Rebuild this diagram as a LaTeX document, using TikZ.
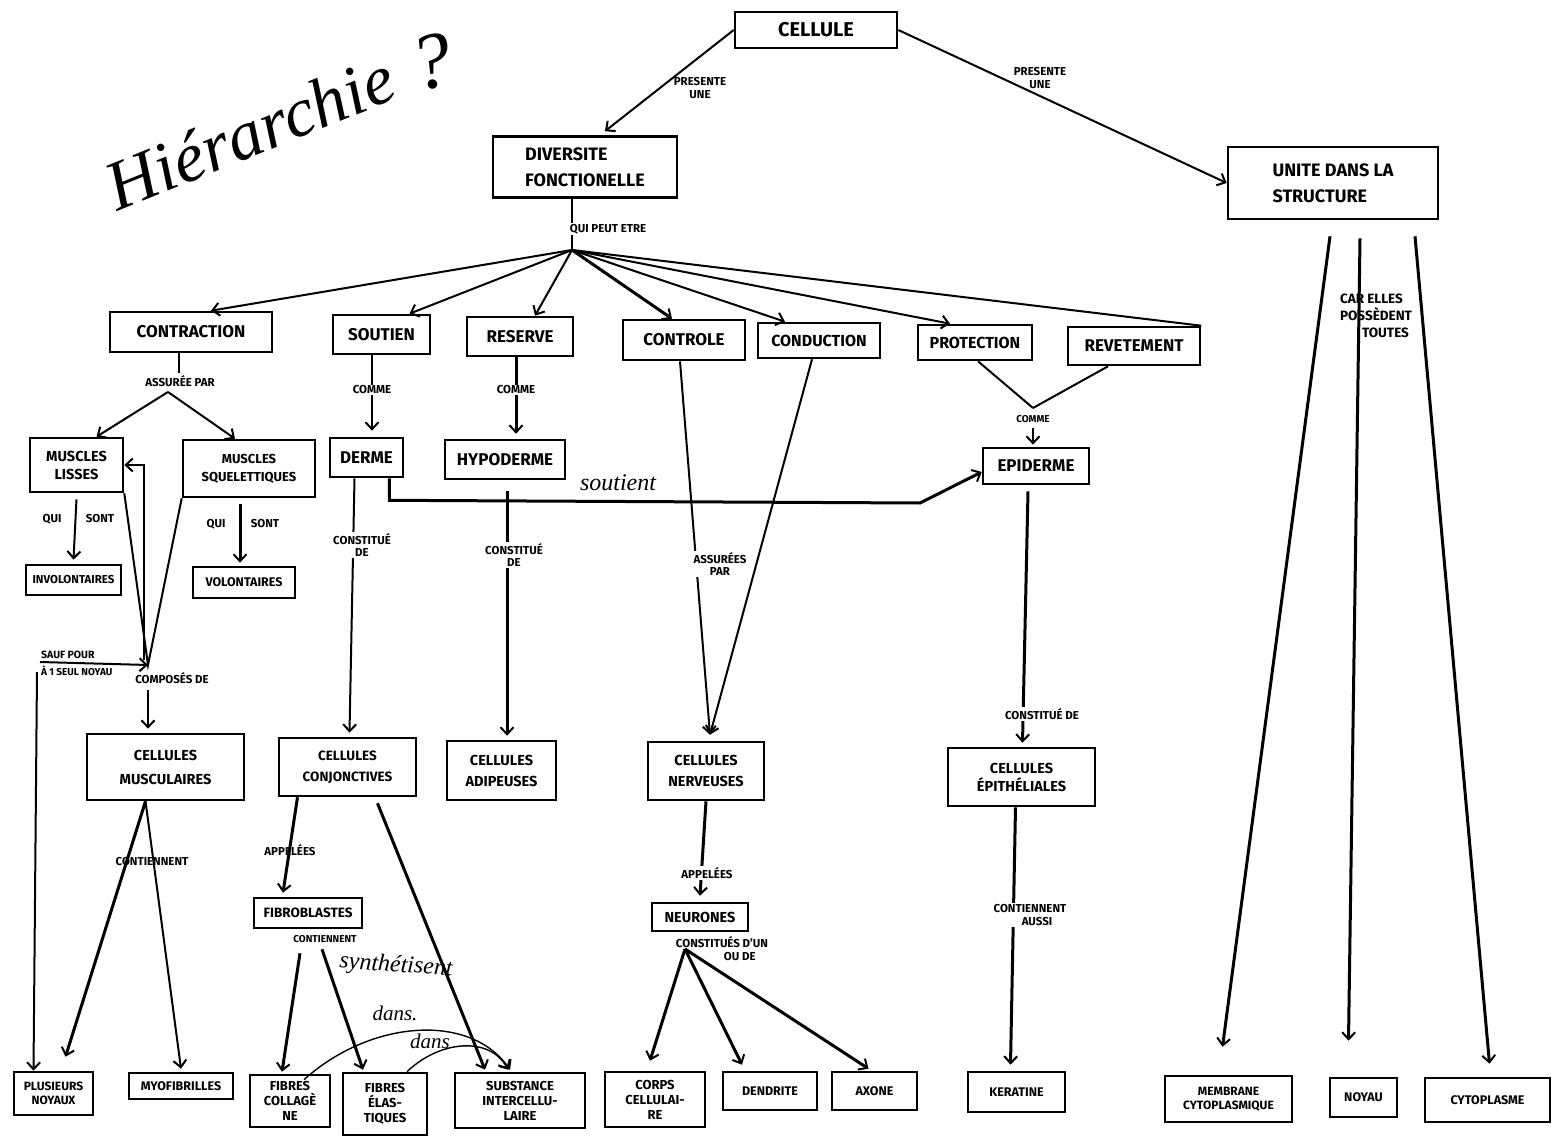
\documentclass[tikz,border=0pt]{standalone}
\usepackage{fontspec}
\setmainfont{Fira Sans}
\newfontfamily\hand{Liberation Serif}
\usetikzlibrary{arrows.meta,calc}

\begin{document}
\begin{tikzpicture}[x=1pt,y=-1pt,
  box/.style={draw, line width=2.6pt, inner sep=2pt, align=center},
  big/.style={font=\bfseries\fontsize{18}{26}\selectfont},
  mid/.style={font=\bfseries\fontsize{17}{20}\selectfont},
  sml/.style={font=\bfseries\fontsize{14.5}{18}\selectfont},
  tny/.style={font=\bfseries\fontsize{12.5}{14}\selectfont},
  thr/.style={font=\bfseries\fontsize{13}{15}\selectfont},
  lbl/.style={font=\bfseries\fontsize{11.5}{13}\selectfont, align=center, inner sep=1pt},
  wlbl/.style={lbl, fill=white},
  link/.style={line width=2pt, -{Straight Barb[length=7pt,width=13pt,line width=2pt]}},
  heavy/.style={link, line width=3pt},
  plain/.style={line width=2pt},
  cursive/.style={font=\hand\itshape\fontsize{24}{24}\selectfont, inner sep=0pt}
]
\useasboundingbox (0,0) rectangle (1560,1147);
\fill[white] (0,0) rectangle (1560,1147);

% title
\node[rotate=22, font=\hand\itshape\fontsize{70}{70}\selectfont] (title) at (250,132) {Hiérarchie};
\node[rotate=12, font=\hand\itshape\fontsize{80}{80}\selectfont] (qm) at (432,62) {?};

% top levels
\node[box, font=\bfseries\fontsize{20}{26}\selectfont, minimum width=162, minimum height=36] (cel) at (816,30) {CELLULE};
\node[box, big, minimum width=184, minimum height=61, align=left] (div) at (585,167) {DIVERSITE\\FONCTIONELLE};
\node[box, big, minimum width=210, minimum height=72, align=left] (uni) at (1333,183) {UNITE DANS LA\\STRUCTURE};

% functions
\node[box, mid, minimum width=162, minimum height=40] (contr) at (191,332) {CONTRACTION};
\node[box, mid, minimum width=97, minimum height=39] (sout) at (381.5,334.5) {SOUTIEN};
\node[box, mid, minimum width=106, minimum height=39] (res) at (520,336.5) {RESERVE};
\node[box, mid, minimum width=122, minimum height=40] (ctrl) at (684,340) {CONTROLE};
\node[box, mid, font=\bfseries\fontsize{16}{20}\selectfont, minimum width=122, minimum height=35] (cond) at (819,340.5) {CONDUCTION};
\node[box, mid, font=\bfseries\fontsize{16}{20}\selectfont, minimum width=114, minimum height=35] (prot) at (975,342.5) {PROTECTION};
\node[box, mid, minimum width=132, minimum height=38] (rev) at (1134,346) {REVETEMENT};

% tissues
\node[box, sml, minimum width=93, minimum height=54] (ml) at (76.5,465) {MUSCLES\\LISSES};
\node[box, sml, font=\bfseries\fontsize{13}{18}\selectfont, minimum width=132, minimum height=57] (ms) at (249,468.5) {MUSCLES\\SQUELETTIQUES};
\node[box, mid, minimum width=73, minimum height=39] (derme) at (366.5,457.5) {DERME};
\node[box, mid, minimum width=120, minimum height=39] (hypo) at (505,459.5) {HYPODERME};
\node[box, mid, minimum width=106, minimum height=36] (epi) at (1036,466) {EPIDERME};
\node[box, tny, font=\bfseries\fontsize{11.5}{13}\selectfont, minimum width=95, minimum height=30] (invol) at (73.5,580) {INVOLONTAIRES};
\node[box, tny, minimum width=102, minimum height=31] (vol) at (244,582.5) {VOLONTAIRES};

% cells
\node[box, sml, minimum width=157, minimum height=66] (cm) at (165.5,767) {CELLULES\\[6pt]MUSCULAIRES};
\node[box, sml, font=\bfseries\fontsize{13.5}{18}\selectfont, minimum width=137, minimum height=58] (ccj) at (347.5,767) {CELLULES\\[3pt]CONJONCTIVES};
\node[box, sml, minimum width=109, minimum height=59] (cad) at (501.5,770.5) {CELLULES\\[3pt]ADIPEUSES};
\node[box, sml, minimum width=116, minimum height=58] (cn) at (706,771) {CELLULES\\[3pt]NERVEUSES};
\node[box, sml, minimum width=147, minimum height=58] (cep) at (1021.5,777) {CELLULES\\ÉPITHÉLIALES};
\node[box, sml, font=\bfseries\fontsize{13.5}{18}\selectfont, minimum width=108, minimum height=30] (fib) at (308,913) {FIBROBLASTES};
\node[box, sml, minimum width=96, minimum height=28] (neur) at (700,917) {NEURONES};

% components
\node[box, thr, font=\bfseries\fontsize{12}{14.5}\selectfont, minimum width=79, minimum height=43] (pn) at (53.5,1093.5) {PLUSIEURS\\NOYAUX};
\node[box, tny, minimum width=104, minimum height=26] (myo) at (181,1086) {MYOFIBRILLES};
\node[box, thr, minimum width=80, minimum height=52] (fcol) at (290,1101) {FIBRES\\COLLAGÈ\\NE};
\node[box, thr, minimum width=84, minimum height=62] (fela) at (385,1104) {FIBRES\\ÉLAS-\\TIQUES};
\node[box, thr, minimum width=130, minimum height=55] (subst) at (520,1100.5) {SUBSTANCE\\INTERCELLU-\\LAIRE};
\node[box, thr, minimum width=100, minimum height=55] (corps) at (655,1099.5) {CORPS\\CELLULAI-\\RE};
\node[box, tny, minimum width=94, minimum height=38] (dend) at (770,1091) {DENDRITE};
\node[box, tny, minimum width=85, minimum height=38] (axone) at (874.5,1091) {AXONE};
\node[box, tny, minimum width=97, minimum height=40] (ker) at (1016.5,1092) {KERATINE};
\node[box, tny, font=\bfseries\fontsize{12}{14.5}\selectfont, minimum width=127, minimum height=46] (memb) at (1228.5,1099) {MEMBRANE\\CYTOPLASMIQUE};
\node[box, tny, minimum width=67, minimum height=39] (noy) at (1363.5,1097.5) {NOYAU};
\node[box, tny, minimum width=125, minimum height=44] (cyto) at (1487.5,1100) {CYTOPLASME};

% cellule
\draw[link] (cel.west) -- ([xshift=20pt,yshift=4pt]div.north);
\node[lbl] (l1) at (700,88) {PRESENTE\\UNE};
\draw[link] (cel.east) -- (uni.west);
\node[lbl] (l2) at (1040,78) {PRESENTE\\UNE};

% fan of functions
\coordinate (hub) at (572,250);
\draw[plain] (div.south -| hub) -- (hub);
\node[wlbl] (l3) at (608,229) {QUI PEUT ETRE};
\draw[link] (hub) -- ([xshift=20pt]contr.north);
\draw[link] (hub) -- ([xshift=28pt]sout.north);
\draw[link] (hub) -- ([xshift=15pt]res.north);
\draw[heavy] (hub) -- ([xshift=-12pt]ctrl.north);
\draw[link] (hub) -- ([xshift=-34pt]cond.north);
\draw[link] (hub) -- ([xshift=-25pt]prot.north);
\draw[plain] (hub) -- (rev.north east);

% contraction
\draw[plain] ([xshift=-12pt]contr.south) -- ++(0,20);
\node[lbl] (l4) at (180,381) {ASSURÉE PAR};
\coordinate (ap) at (168,392);
\draw[link] (ap) -- ([xshift=20pt]ml.north);
\draw[link] (ap) -- ([xshift=-14pt]ms.north);
\draw[link] ([yshift=-6pt]ml.south) -- ([yshift=4pt]invol.north);
\node[lbl] (l5) at (52,519) {QUI};
\node[lbl] (l6) at (100,519) {SONT};
\draw[heavy] ([xshift=-9pt,yshift=-6pt]ms.south) -- ([xshift=-4pt,yshift=3pt]vol.north);
\node[lbl] (l7) at (216,524) {QUI};
\node[lbl] (l8) at (265,524) {SONT};

% muscle cells
\coordinate (v) at (148,665);
\coordinate (v2) at (144,660);
\draw[plain] (ml.south east) -- (v) -- (ms.south west);
\draw[link] (v2) |- (ml.east);
\draw[link] ([yshift=-25pt]v) -- ([xshift=-17.5pt,yshift=4pt]cm.north);
\node[lbl] (l9) at (172,678) {COMPOSÉS DE};
\coordinate (s1) at (40,662);
\coordinate (s2) at (37,672);
\draw[link] (s1) -- (v);
\node[lbl, anchor=south west, font=\bfseries\fontsize{10.5}{12}\selectfont] (l10) at (40,660) {SAUF POUR};
\node[lbl, anchor=north west, font=\bfseries\fontsize{10}{12}\selectfont] (l11) at (40,665) {À 1 SEUL NOYAU};
\draw[link] (s2) -- ([xshift=-20pt]pn.north);
\draw[heavy] ([xshift=-20pt]cm.south) -- ([xshift=12pt,yshift=14pt]pn.north);
\draw[link] ([xshift=-20pt]cm.south) -- ([yshift=3pt]myo.north);
\node[lbl] (l12) at (152,862) {CONTIENNENT};

% soutien / reserve
\draw[link] ([xshift=-9.5pt]sout.south) -- ([xshift=5.5pt,yshift=6pt]derme.north);
\node[wlbl] (l13) at (372,390) {COMME};
\draw[heavy] ([xshift=-4pt]res.south) -- ([xshift=11pt,yshift=5pt]hypo.north);
\node[wlbl] (l14) at (516,390) {COMME};
\draw[heavy] ([xshift=-15pt]derme.south east) -- ++(0,22) -- (920,503) -- ([yshift=-6pt]epi.west);
\node[cursive] (l15) at (618,483) {soutient};
\draw[link] ([xshift=-12pt]derme.south) -- ([xshift=2pt,yshift=4pt]ccj.north);
\node[wlbl] (l16) at (362,545) {CONSTITUÉ\\DE};
\draw[heavy] ([xshift=2pt,yshift=-11pt]hypo.south) -- ([xshift=5.5pt,yshift=4pt]cad.north);
\node[wlbl] (l17) at (514,555) {CONSTITUÉ\\DE};

% controle / conduction
\draw[link] ([xshift=-4pt]ctrl.south) -- ([xshift=4pt,yshift=6pt]cn.north);
\draw[link] ([xshift=-7pt]cond.south) -- ([xshift=4pt,yshift=6pt]cn.north);
\node[wlbl] (l18) at (720,564) {ASSURÉES\\PAR};
\draw[heavy] (cn.south) -- ([yshift=6pt]neur.north);
\node[wlbl] (l19) at (707,873) {APPELÉES};
\node[lbl, align=left] (l20) at (722,949) {CONSTITUÉS D'UN\\\hspace*{48pt}OU DE};
\coordinate (nb) at (685,949);
\draw[heavy] (nb) -- ([xshift=-5pt,yshift=10pt]corps.north);
\draw[heavy] (nb) -- ([xshift=-28pt,yshift=6pt]dend.north);
\draw[heavy] (nb) -- ([xshift=-6pt,yshift=2pt]axone.north);

% protection / revetement
\coordinate (cm2) at (1033,408);
\draw[plain] ([xshift=3pt]prot.south) -- (cm2);
\draw[plain] ([xshift=-26pt]rev.south) -- (cm2);
\node[lbl, font=\bfseries\fontsize{10}{12}\selectfont] (l21) at (1033,419) {COMME};
\draw[link] (1033,428) -- ([xshift=-3pt,yshift=2pt]epi.north);
\draw[heavy] ([xshift=-8pt,yshift=-6pt]epi.south) -- ([xshift=1pt,yshift=4pt]cep.north);
\node[wlbl] (l22) at (1042,714) {CONSTITUÉ DE};
\draw[heavy] ([xshift=-6pt]cep.south) -- ([xshift=-6pt,yshift=6pt]ker.north);
\node[wlbl] (l23) at (1030,915) {CONTIENNENT\\\hspace*{14pt}AUSSI};

% conjonctif
\draw[heavy] ([xshift=-50pt]ccj.south) -- ([xshift=-25pt,yshift=4pt]fib.north);
\node[lbl] (l24) at (290,850) {APPELÉES};
\draw[heavy] ([xshift=30pt,yshift=-6pt]ccj.south) -- ([xshift=-35pt,yshift=2pt]subst.north);
\node[lbl, font=\bfseries\fontsize{10}{12}\selectfont] (l25) at (325,939) {CONTIENNENT};
\draw[heavy] ([xshift=-8pt,yshift=-24pt]fib.south) -- ([xshift=-8pt,yshift=2pt]fcol.north);
\draw[heavy] ([xshift=14pt,yshift=-20pt]fib.south) -- ([xshift=-22pt,yshift=2pt]fela.north);
\node[cursive, rotate=-4] (l26) at (396,966) {synthétisent};
\draw[link, line width=1.4pt] ([xshift=14pt,yshift=-6pt]fcol.north) .. controls (370,1020) and (470,1012) .. ([xshift=-10pt,yshift=2pt]subst.north);
\node[cursive, font=\hand\itshape\fontsize{21}{21}\selectfont] (l27) at (395,1013) {dans.};
\draw[link, line width=1.4pt] ([xshift=22pt]fela.north) .. controls (440,1040) and (490,1036) .. ([xshift=-12pt,yshift=2pt]subst.north);
\node[cursive, font=\hand\itshape\fontsize{21}{21}\selectfont] (l28) at (430,1041) {dans};

% structure
\draw[heavy] ([xshift=-3pt,yshift=-16pt]uni.south) -- ([xshift=-6pt,yshift=28pt]memb.north);
\draw[heavy] ([xshift=27pt,yshift=-18pt]uni.south) -- ([xshift=-15pt,yshift=36pt]noy.north);
\draw[heavy] ([xshift=82pt,yshift=-16pt]uni.south) -- ([xshift=2pt,yshift=13pt]cyto.north);
\node[lbl, align=left, font=\bfseries\fontsize{13.5}{17}\selectfont] (l29) at (1376,316) {CAR ELLES\\POSSÈDENT\\\hspace*{22pt}TOUTES};
\end{tikzpicture}
\end{document}
